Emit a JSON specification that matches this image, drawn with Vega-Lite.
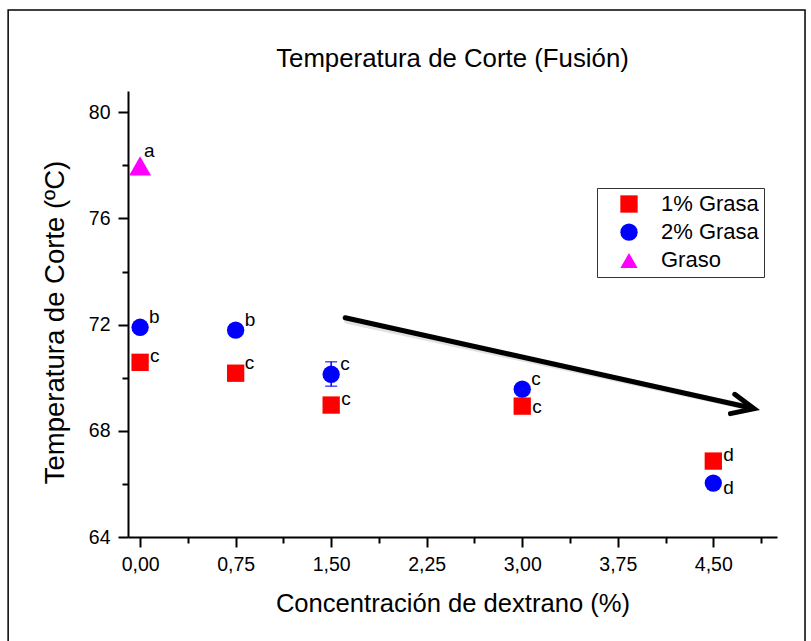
{
  "$schema": "https://vega.github.io/schema/vega-lite/v6.json",
  "width": 649,
  "height": 446,
  "autosize": "none",
  "padding": {"left": 128, "top": 91, "right": 34, "bottom": 104},
  "background": "white",
  "config": {
    "view": {"stroke": null},
    "font": "Liberation Sans",
    "axis": {"grid": false, "domainColor": "black", "domainWidth": 2, "tickColor": "black", "tickWidth": 2, "labelColor": "black", "titleColor": "black", "labelFont": "Liberation Sans", "titleFont": "Liberation Sans", "labelFontSize": 19.5, "titleFontSize": 25.6, "titleFontWeight": "normal"}
  },
  "title": {"text": "Temperatura de Corte (Fusión)", "font": "Liberation Sans", "fontSize": 25.8, "fontWeight": "normal", "color": "black", "anchor": "middle", "frame": "group", "offset": -64},
  "datasets": {
    "puntos": [
      {"conc": 0, "temp": 70.58, "grupo": "1% Grasa", "letra": "c"},
      {"conc": 0.75, "temp": 70.17, "grupo": "1% Grasa", "letra": "c"},
      {"conc": 1.5, "temp": 68.97, "grupo": "1% Grasa", "letra": "c"},
      {"conc": 3, "temp": 68.93, "grupo": "1% Grasa", "letra": "c"},
      {"conc": 4.5, "temp": 66.86, "grupo": "1% Grasa", "letra": "d"},
      {"conc": 0, "temp": 71.9, "grupo": "2% Grasa", "letra": "b"},
      {"conc": 0.75, "temp": 71.79, "grupo": "2% Grasa", "letra": "b"},
      {"conc": 1.5, "temp": 70.13, "grupo": "2% Grasa", "letra": "c"},
      {"conc": 3, "temp": 69.57, "grupo": "2% Grasa", "letra": "c"},
      {"conc": 4.5, "temp": 66.03, "grupo": "2% Grasa", "letra": "d"},
      {"conc": 0, "temp": 77.98, "grupo": "Graso", "letra": "a"}
    ],
    "error": [
      {"conc": 1.5, "lo": 69.68, "hi": 70.6, "grupo": "2% Grasa"}
    ],
    "flecha": [
      {"x": 1.61, "y": 72.26, "x2": 4.79, "y2": 68.87}
    ],
    "punta": [
      {"x": 4.82, "y": 68.83}
    ],
    "marco": [
      {"x": -1.036, "x2": 5.22, "y": 83.85, "y2": 59.9}
    ]
  },
  "layer": [
    {
      "data": {"name": "marco"},
      "mark": {"type": "rect", "filled": false, "stroke": "black", "strokeWidth": 1.5, "clip": false},
      "encoding": {
        "x": {"field": "x", "type": "quantitative", "scale": {"domain": [-0.095, 5.0], "nice": false, "zero": false}, "axis": {"title": "Concentración de dextrano (%)", "values": [0, 0.375, 0.75, 1.125, 1.5, 1.875, 2.25, 2.625, 3, 3.375, 3.75, 4.125, 4.5, 4.875], "labelExpr": "datum.value % 0.75 == 0 ? replace(format(datum.value, '.2f'), '.', ',') : ''", "tickSize": {"condition": {"test": "datum.value % 0.75 == 0", "value": 10}, "value": 6}, "labelPadding": 8, "titlePadding": 18, "labelFlush": false, "labelOverlap": false}},
        "x2": {"field": "x2"},
        "y": {"field": "y", "type": "quantitative", "scale": {"domain": [64, 80.8], "nice": false, "zero": false}, "axis": {"title": "Temperatura de Corte (ºC)", "titleFontSize": 27.5, "titleY": 231, "values": [64, 66, 68, 70, 72, 74, 76, 78, 80], "labelExpr": "datum.value % 4 == 0 ? datum.label : ''", "tickSize": {"condition": {"test": "datum.value % 4 == 0", "value": 10}, "value": 6}, "labelPadding": 8, "titlePadding": 19, "labelFlush": false, "labelOverlap": false}},
        "y2": {"field": "y2"}
      }
    },
    {
      "data": {"name": "flecha"},
      "mark": {"type": "rule", "stroke": "#888888", "strokeWidth": 6, "opacity": 0.25, "strokeCap": "round", "xOffset": 2, "yOffset": 3},
      "encoding": {
        "x": {"field": "x", "type": "quantitative"},
        "x2": {"field": "x2"},
        "y": {"field": "y", "type": "quantitative"},
        "y2": {"field": "y2"}
      }
    },
    {
      "data": {"name": "flecha"},
      "mark": {"type": "rule", "stroke": "black", "strokeWidth": 5, "strokeCap": "round"},
      "encoding": {
        "x": {"field": "x", "type": "quantitative"},
        "x2": {"field": "x2"},
        "y": {"field": "y", "type": "quantitative"},
        "y2": {"field": "y2"}
      }
    },
    {
      "data": {"name": "punta"},
      "mark": {"type": "point", "shape": "M -1 -0.45 L 0 0 L -1 0.45", "size": 1936, "filled": false, "stroke": "black", "strokeWidth": 5, "strokeCap": "round", "strokeJoin": "miter", "angle": 12.6, "opacity": 1},
      "encoding": {
        "x": {"field": "x", "type": "quantitative"},
        "y": {"field": "y", "type": "quantitative"}
      }
    },
    {
      "data": {"name": "error"},
      "mark": {"type": "rule", "stroke": "#0000FF", "strokeWidth": 1.5},
      "encoding": {
        "x": {"field": "conc", "type": "quantitative"},
        "y": {"field": "lo", "type": "quantitative"},
        "y2": {"field": "hi"}
      }
    },
    {
      "data": {"name": "error"},
      "mark": {"type": "tick", "orient": "horizontal", "color": "#0000FF", "size": 12, "thickness": 1.5},
      "encoding": {
        "x": {"field": "conc", "type": "quantitative"},
        "y": {"field": "lo", "type": "quantitative"}
      }
    },
    {
      "data": {"name": "error"},
      "mark": {"type": "tick", "orient": "horizontal", "color": "#0000FF", "size": 12, "thickness": 1.5},
      "encoding": {
        "x": {"field": "conc", "type": "quantitative"},
        "y": {"field": "hi", "type": "quantitative"}
      }
    },
    {
      "data": {"name": "puntos"},
      "transform": [{"filter": "datum.grupo != 'Graso'"}],
      "mark": {"type": "point", "filled": true, "opacity": 1, "size": 300},
      "encoding": {
        "x": {"field": "conc", "type": "quantitative"},
        "y": {"field": "temp", "type": "quantitative"},
        "color": {"field": "grupo", "type": "nominal", "scale": {"domain": ["1% Grasa", "2% Grasa", "Graso"], "range": ["#FF0000", "#0000FF", "#FF00FF"]}, "legend": {"title": null, "orient": "none", "legendX": 469, "legendY": 97, "strokeColor": "#333333", "padding": 5, "labelFontSize": 22, "labelFont": "Liberation Sans", "labelColor": "black", "labelOffset": 21, "symbolOffset": 16, "rowPadding": 6.2, "symbolStrokeWidth": 0, "symbolSize": 300, "fillColor": "white"}},
        "shape": {"field": "grupo", "type": "nominal", "scale": {"domain": ["1% Grasa", "2% Grasa", "Graso"], "range": ["square", "circle", "triangle-up"]}}
      }
    },
    {
      "data": {"name": "puntos"},
      "transform": [{"filter": "datum.grupo == 'Graso'"}],
      "mark": {"type": "point", "shape": "triangle-up", "filled": true, "opacity": 1, "size": 484, "color": "#FF00FF"},
      "encoding": {
        "x": {"field": "conc", "type": "quantitative"},
        "y": {"field": "temp", "type": "quantitative"}
      }
    },
    {
      "data": {"name": "puntos"},
      "transform": [{"filter": "(datum.grupo == '2% Grasa' && datum.conc < 4) || (datum.grupo == '1% Grasa' && datum.conc == 0.75)"}],
      "mark": {"type": "text", "align": "left", "baseline": "middle", "dx": 9, "dy": -10, "fontSize": 19, "font": "Liberation Sans", "color": "black"},
      "encoding": {
        "x": {"field": "conc", "type": "quantitative"},
        "y": {"field": "temp", "type": "quantitative"},
        "text": {"field": "letra"}
      }
    },
    {
      "data": {"name": "puntos"},
      "transform": [{"filter": "datum.grupo == '1% Grasa' && datum.conc != 0.75 && datum.conc != 3"}],
      "mark": {"type": "text", "align": "left", "baseline": "middle", "dx": 10, "dy": -6, "fontSize": 19, "font": "Liberation Sans", "color": "black"},
      "encoding": {
        "x": {"field": "conc", "type": "quantitative"},
        "y": {"field": "temp", "type": "quantitative"},
        "text": {"field": "letra"}
      }
    },
    {
      "data": {"name": "puntos"},
      "transform": [{"filter": "datum.grupo == '1% Grasa' && datum.conc == 3"}],
      "mark": {"type": "text", "align": "left", "baseline": "middle", "dx": 10, "dy": 1, "fontSize": 19, "font": "Liberation Sans", "color": "black"},
      "encoding": {
        "x": {"field": "conc", "type": "quantitative"},
        "y": {"field": "temp", "type": "quantitative"},
        "text": {"field": "letra"}
      }
    },
    {
      "data": {"name": "puntos"},
      "transform": [{"filter": "datum.grupo == '2% Grasa' && datum.conc == 4.5"}],
      "mark": {"type": "text", "align": "left", "baseline": "middle", "dx": 10, "dy": 5, "fontSize": 19, "font": "Liberation Sans", "color": "black"},
      "encoding": {
        "x": {"field": "conc", "type": "quantitative"},
        "y": {"field": "temp", "type": "quantitative"},
        "text": {"field": "letra"}
      }
    },
    {
      "data": {"name": "puntos"},
      "transform": [{"filter": "datum.grupo == 'Graso'"}],
      "mark": {"type": "text", "align": "left", "baseline": "middle", "dx": 4, "dy": -15, "fontSize": 19, "font": "Liberation Sans", "color": "black"},
      "encoding": {
        "x": {"field": "conc", "type": "quantitative"},
        "y": {"field": "temp", "type": "quantitative"},
        "text": {"field": "letra"}
      }
    }
  ]
}
